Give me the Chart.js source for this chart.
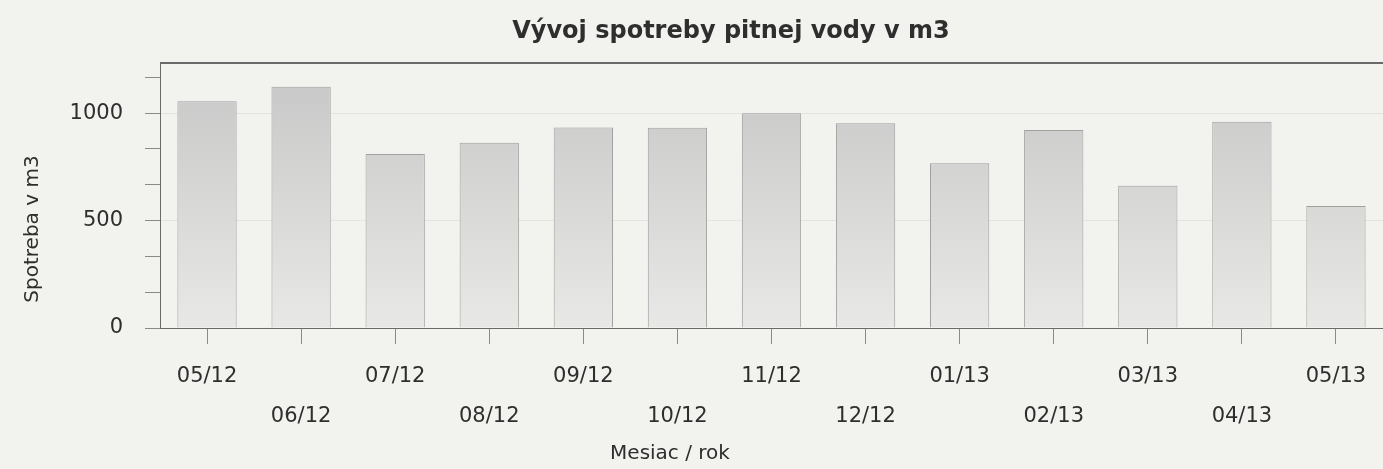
<!DOCTYPE html>
<html>
<head>
<meta charset="utf-8">
<script src="https://cdn.jsdelivr.net/npm/chart.js@4/dist/chart.umd.min.js"></script>
<style>
  html, body { margin: 0; padding: 0; background: #f2f2ef; }
  #wrap { width: 1383px; height: 469px; }
</style>
</head>
<body>
<div id="wrap"><canvas id="chart"></canvas></div>
<script>
// data
const months = ["05/12", "06/12", "07/12", "08/12", "09/12", "10/12", "11/12",
  "12/12", "01/13", "02/13", "03/13", "04/13", "05/13"];
const consumption = [1055, 1122, 810, 862, 933, 932, 999, 953, 767, 921, 662, 960, 568];
const yTicks = [0, 167, 333, 500, 667, 833, 1000, 1167];
const yLabels = [0, 500, 1000];

const chartTitle = "Vývoj spotreby pitnej vody v m3";
const xTitle = "Mesiac / rok";
const yTitle = "Spotreba v m3";

const textColor = "#2e2e2e";
const font = "DejaVu Sans";

// background, top border and the titles (the original has them off-centre)
const frame = {
  id: "frame",
  beforeDraw(chart) {
    const { ctx, width, height } = chart;
    ctx.save();
    ctx.fillStyle = "#f2f2ef";
    ctx.fillRect(0, 0, width, height);
    ctx.restore();
  },
  afterDraw(chart) {
    const { ctx, chartArea } = chart;
    ctx.save();
    ctx.strokeStyle = "#6a6a6a";
    ctx.lineWidth = 2;
    ctx.beginPath();
    ctx.moveTo(chartArea.left, chartArea.top);
    ctx.lineTo(chartArea.right, chartArea.top);
    ctx.stroke();

    ctx.fillStyle = textColor;
    ctx.textAlign = "center";
    ctx.textBaseline = "middle";
    ctx.font = "bold 24px '" + font + "'";
    ctx.fillText(chartTitle, 731, 32);

    ctx.font = "20px '" + font + "'";
    ctx.fillText(xTitle, 670, 454);

    ctx.translate(33, 229);
    ctx.rotate(-Math.PI / 2);
    ctx.fillText(yTitle, 0, 0);
    ctx.restore();
  }
};

function barFill(context) {
  const { ctx, chartArea } = context.chart;
  if (!chartArea) return "#d4d4d4";
  const g = ctx.createLinearGradient(0, chartArea.top, 0, chartArea.bottom);
  g.addColorStop(0, "#c6c6c6");
  g.addColorStop(1, "#e8e8e6");
  return g;
}

new Chart(document.getElementById("chart"), {
  type: "bar",
  data: {
    labels: months,
    datasets: [{
      data: consumption,
      backgroundColor: barFill,
      borderColor: "#a0a0a0",
      borderWidth: 1,
      categoryPercentage: 1,
      barPercentage: 0.63
    }]
  },
  options: {
    responsive: true,
    maintainAspectRatio: false,
    animation: false,
    layout: { padding: { left: 0, right: 0, top: 63, bottom: 0 } },
    plugins: {
      legend: { display: false },
      tooltip: { enabled: false },
      title: { display: false }
    },
    scales: {
      x: {
        offset: true,
        afterFit: (scale) => { scale.height = 141; },
        grid: {
          offset: false,
          drawOnChartArea: false,
          tickLength: 16,
          color: "#8a8a8a"
        },
        border: { color: "#6a6a6a", width: 1 },
        ticks: {
          autoSkip: false,
          maxRotation: 0,
          color: textColor,
          padding: 13,
          font: { family: font, size: 21, lineHeight: 1.9 },
          callback: (v, i) => i % 2 === 0 ? [months[i], ""] : ["", months[i]]
        }
      },
      y: {
        min: 0,
        max: 1233,
        afterBuildTicks: (scale) => {
          scale.ticks = yTicks.map(v => ({ value: v }));
        },
        afterFit: (scale) => { scale.width = 160; },
        grid: {
          tickLength: 15,
          color: (c) => yLabels.includes(c.tick && c.tick.value) ? "rgba(0,0,0,0.06)" : "rgba(0,0,0,0)",
          tickColor: "#8a8a8a"
        },
        border: { color: "#6a6a6a", width: 1 },
        ticks: {
          color: textColor,
          padding: 22,
          font: { family: font, size: 21 },
          callback: (v) => yLabels.includes(v) ? String(v) : ""
        }
      }
    }
  },
  plugins: [frame]
});
</script>
</body>
</html>
